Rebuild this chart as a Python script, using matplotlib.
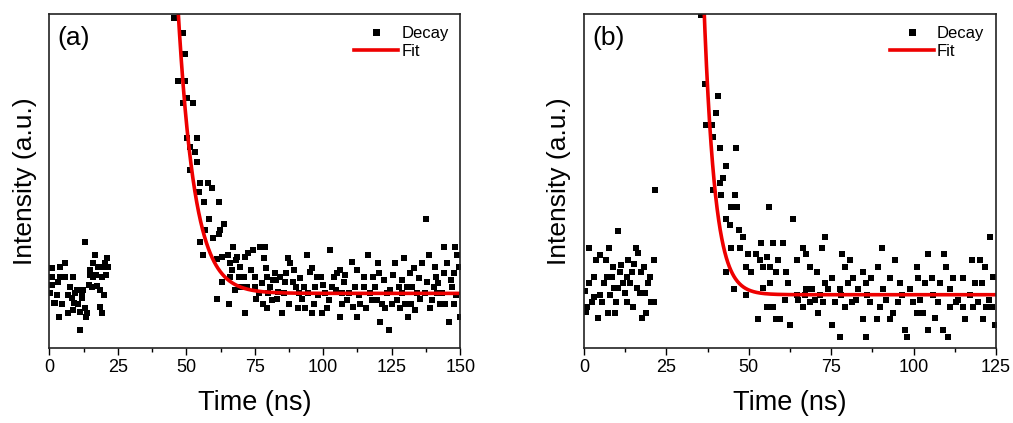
import numpy as np
import matplotlib
matplotlib.use("Agg")
import matplotlib.pyplot as plt

plt.rcParams['font.family'] = ['Liberation Sans', 'DejaVu Sans']

# ---- panel (a) data: time (ns), intensity (a.u., % of axis height)
a_time = [0.9, 0.9, 0.9, 2.7, 2.1, 3.9, 3.9, 4.5, 5.7, 5.7, 3.7, 6.9, 6.9, 7.6, 8.2,
          8.8, 9.0, 9.4, 10.0, 10.6, 11.2, 11.8, 11.2, 12.4, 13.0, 13.0, 13.4, 13.9,
          14.3, 14.9, 14.9, 15.5, 16.1, 16.7, 17.1, 17.3, 17.9, 18.5, 18.5, 19.1, 19.1,
          19.7, 20.3, 20.7, 21.2, 21.6, 0.3, 1.6, 3.0, 8.6, 12.0, 16.0, 20.0,
          45.6, 48.7, 49.7, 46.8, 49.6, 48.7, 50.2, 52.4, 50.4, 53.8, 51.4, 53.2, 53.8,
          51.4, 55.1, 58.1, 54.5, 59.3, 56.6, 62.1, 58.3, 56.9, 63.8, 55.1, 59.9, 61.8,
          62.4, 56.0, 61.1, 63.0, 65.4, 67.2, 66.0, 68.4, 69.7, 71.5, 72.7, 74.5, 77.0,
          78.8, 63.0, 66.0, 67.8, 69.1, 70.9, 72.1, 75.2, 61.1, 65.7, 71.3, 75.5, 78.2,
          79.4, 80.6, 79.4, 81.2, 82.8, 82.5, 84.3, 84.9, 86.1, 87.0, 88.0, 89.2, 90.1,
          91.0, 92.2, 94.0, 93.4, 95.9, 97.1, 95.9, 99.0, 99.6, 100.7, 102.6, 103.2,
          103.8, 105.0, 106.2, 106.8, 107.4, 108.6, 110.5, 111.7, 112.3, 113.5, 114.7,
          116.5, 117.1, 118.3, 119.6, 120.1, 120.8, 122.0, 123.2, 123.9, 125.1, 126.3,
          127.5, 128.1, 129.3, 129.9, 131.1, 132.4, 133.0, 134.2, 136.0, 137.6, 138.5,
          139.1, 140.3, 141.5, 142.7, 144.0, 144.0, 145.2, 145.8, 147.0, 147.6, 148.2,
          148.8, 149.5, 149.8,
          76.5, 78.0, 80.0, 83.0, 85.5, 87.5, 89.0, 90.8, 92.8, 94.5, 96.5, 98.0, 101.5,
          102.0, 104.5, 107.0, 109.5, 110.8, 113.0, 115.5, 117.8, 119.0, 121.5, 122.5,
          124.5, 126.8, 128.6, 130.5, 132.0, 133.5, 135.2, 137.0, 138.0, 139.8, 141.0,
          143.2, 144.5, 146.5, 148.5, 66.8, 68.0, 70.0, 73.5, 75.0, 77.5, 79.0, 81.8,
          83.5, 86.5, 91.5, 95.0, 97.8, 100.0, 106.0, 108.0, 112.5, 115.0, 120.5, 125.5,
          128.8, 131.5, 134.8, 140.8, 142.0, 147.8]
a_intensity = [23.8, 21.3, 18.8, 15.8, 13.3, 21.3, 24.3, 13.1, 25.3, 21.3, 9.3, 15.8, 10.3,
               18.3, 14.8, 21.3, 13.3, 16.3, 17.3, 13.1, 10.8, 16.3, 5.3, 17.3, 11.8, 31.8,
               9.3, 10.3, 18.8, 21.8, 23.3, 18.3, 25.3, 27.8, 21.8, 18.5, 24.3, 17.3, 12.3,
               10.3, 21.3, 24.3, 25.3, 21.8, 26.8, 24.3, 16.3, 13.3, 19.8, 11.3, 14.8, 21.3, 15.8,
               98.8, 94.5, 88.1, 80.0, 80.0, 73.3, 74.8, 73.3, 62.8, 62.8, 60.3, 58.8, 55.8,
               53.3, 49.5, 49.5, 46.8, 47.8, 43.8, 43.8, 38.5, 35.3, 37.1, 31.8, 32.8, 34.1,
               35.3, 27.8, 26.5, 27.3, 27.8, 30.3, 25.3, 27.3, 24.3, 27.3, 28.3, 29.3, 30.3,
               30.3, 19.8, 21.3, 17.3, 21.3, 21.3, 18.3, 18.3, 14.5, 13.1, 10.3, 14.5, 26.8,
               21.3, 18.3, 11.8, 14.3, 20.3, 22.3, 21.3, 10.3, 19.8, 26.8, 25.3, 23.3, 18.3,
               16.3, 14.5, 27.8, 11.8, 23.8, 18.3, 10.3, 21.3, 10.3, 16.3, 29.3, 18.3,
               21.3, 22.3, 9.3, 16.3, 19.8, 14.3, 25.8, 18.3, 9.3, 13.1, 18.3,
               27.8, 16.3, 21.3, 14.3, 25.3, 7.8, 20.3, 16.3, 5.3, 13.1, 25.3,
               18.3, 11.8, 26.8, 13.1, 9.3, 18.3, 23.8, 16.3, 25.3, 38.5, 27.8,
               11.8, 18.3, 16.3, 13.1, 30.3, 22.3, 25.3, 7.8, 18.3, 13.1, 30.3,
               27.8, 24.3, 9.3,
               16.3, 13.1, 16.3, 14.5, 16.3, 13.1, 19.8, 11.8, 18.3, 16.3, 13.1, 15.8, 11.8,
               14.3, 17.3, 13.1, 16.3, 12.3, 15.8, 11.8, 14.3, 18.3, 13.1, 11.8,
               17.3, 14.3, 16.3, 18.3, 13.1, 11.3, 14.5, 16.3, 19.8, 14.3, 21.3,
               16.3, 13.1, 20.3, 15.8, 23.3, 26.3, 18.3, 23.3, 21.3, 19.3, 23.8, 20.3,
               16.8, 22.3, 20.8, 22.8, 21.3, 18.8, 23.3, 21.8, 23.3, 21.3, 22.3, 21.8,
               20.3, 22.3, 20.8, 24.3, 19.3, 22.3]

# ---- panel (b) data
b_time = [0.5, 0.9, 1.5, 1.5, 2.3, 2.9, 3.5, 4.3, 4.8, 5.0, 5.6, 6.0, 6.6, 7.0, 7.3, 7.6,
          8.0, 8.6, 8.8, 9.3, 9.6, 10.2, 10.3, 10.8, 11.3, 11.8, 12.3, 12.9, 13.1, 13.4,
          13.9, 14.7, 14.9, 15.7, 16.1, 16.4, 16.9, 17.4, 17.7, 18.1, 18.4, 18.9, 19.4,
          19.9, 20.4, 21.2, 21.2, 21.5, 0.2, 3.1, 9.0, 15.3,
          35.6, 36.6, 37.1, 38.7, 39.2, 40.0, 40.7, 41.4, 46.1, 43.0, 42.2, 41.2, 39.2,
          41.7, 45.7, 44.5, 46.4, 56.2, 43.0, 63.3, 44.2, 47.1, 48.3, 53.8, 57.2, 60.4,
          73.1, 44.7, 47.3, 49.8, 52.3, 53.3, 55.4, 56.4, 58.9, 64.5, 66.3, 67.5, 72.1,
          78.4, 80.7, 90.3, 94.3, 104.5, 109.3, 123.2, 43.2, 49.3, 50.8, 54.4, 58.4, 61.4,
          68.5, 70.6, 79.2, 84.7, 89.3, 100.9, 109.8, 117.6, 120.1, 121.7, 45.4, 49.3,
          54.4, 56.4, 62.0, 64.5, 67.5, 69.3, 71.6, 73.1, 75.1, 77.6, 80.1, 81.7, 83.2,
          85.7, 87.2, 90.8, 92.8, 95.9, 98.9, 101.4, 103.4, 105.5, 108.0, 111.0, 112.0,
          115.1, 118.6, 120.9, 124.2, 55.4, 57.4, 52.8, 58.2, 59.4, 62.4, 65.0, 66.5,
          68.5, 71.0, 72.6, 75.1, 76.1, 77.6, 79.1, 81.2, 84.7, 85.5, 86.8, 89.0, 89.8,
          92.8, 93.8, 95.3, 97.4, 97.9, 99.9, 100.9, 103.0, 104.5, 106.5, 107.5, 109.0,
          110.5, 111.0, 113.0, 115.6, 115.1, 118.1, 119.6, 121.1, 122.1, 123.7, 124.7,
          61.0, 67.0, 70.0, 74.0, 78.0, 82.5, 86.0, 91.5, 96.5, 102.0, 106.0, 113.5,
          117.0, 122.8]
b_intensity = [10.8, 12.3, 29.8, 19.3, 13.8, 21.3, 26.3, 8.8, 15.8, 27.8, 13.8, 19.3, 26.3,
               21.3, 10.3, 29.8, 15.8, 21.3, 24.3, 10.3, 13.8, 35.1, 17.8, 22.8, 24.8, 19.3,
               16.3, 21.3, 13.8, 26.3, 19.3, 22.8, 12.3, 29.8, 17.8, 28.3, 16.3, 22.8, 8.8,
               24.3, 16.3, 10.3, 19.3, 21.3, 13.8, 26.3, 13.8, 47.3, 17.0, 15.3, 18.0, 25.0,
               99.8, 79.0, 66.8, 66.8, 63.3, 70.3, 75.5, 59.8, 59.8, 54.6, 50.8, 49.3, 47.3,
               45.8, 45.8, 42.3, 42.3, 42.3, 38.5, 38.5, 36.8, 35.3, 33.3, 31.5, 31.5, 31.5,
               33.3, 29.8, 29.8, 28.1, 28.1, 26.3, 27.3, 24.3, 26.3, 26.3, 29.8, 28.1, 29.8,
               28.1, 26.3, 29.8, 26.3, 28.1, 28.1, 33.3, 22.8, 24.3, 22.8, 24.3, 22.8, 22.8,
               24.3, 22.8, 24.3, 22.8, 24.3, 24.3, 24.3, 26.3, 26.3, 24.3, 17.5, 15.8,
               17.8, 19.3, 19.3, 15.8, 17.5, 17.5, 15.8, 19.3, 20.8, 17.5, 19.3, 20.8, 17.5,
               19.3, 20.8, 17.5, 20.8, 19.3, 17.5, 20.8, 19.3, 20.8, 19.3, 17.5, 20.8,
               20.8, 19.3, 19.3, 21.3, 12.3, 12.3, 8.5, 8.5, 8.5, 6.8, 14.3, 12.3,
               13.8, 10.3, 13.8, 6.8, 13.8, 3.3, 12.3, 13.8, 8.5, 3.3, 13.8, 8.5, 12.3,
               8.5, 10.3, 13.8, 5.3, 3.3, 13.8, 10.3, 10.3, 5.3, 8.8, 13.8, 5.3,
               3.3, 12.3, 13.8, 8.5, 12.3, 12.3, 13.8, 8.5, 12.3, 12.3, 6.8,
               14.3, 15.8, 14.3, 17.5, 15.8, 14.3, 15.8, 14.3, 15.8, 14.3, 15.8, 14.3,
               15.8, 14.3]

# mono-exponential fit parameters: y0 + A*exp(-(t - t0)/tau)
a_fit = dict(y0=16.3, A=58.0, t0=49.3, tau=6.0)
b_fit = dict(y0=15.9, A=58.4, t0=37.7, tau=3.3)

panels = [
    ("(a)", a_time, a_intensity, a_fit, 150, [0.0487, 0.178, 0.4056, 0.788]),
    ("(b)", b_time, b_intensity, b_fit, 125, [0.5765, 0.178, 0.4067, 0.788]),
]

fig = plt.figure(figsize=(10.13, 4.23), dpi=100)

for tag, t, y, p, xmax, rect in panels:
    ax = fig.add_axes(rect)
    ax.plot(t, y, 's', color='black', markersize=4.2, markeredgewidth=0,
            label='Decay')
    tt = np.linspace(p['t0'] - 5, xmax, 600)
    ax.plot(tt, p['y0'] + p['A'] * np.exp(-(tt - p['t0']) / p['tau']),
            color='#ee0000', linewidth=2.6, label='Fit')
    ax.set_xlim(0, xmax)
    ax.set_ylim(0, 100)
    ax.set_xticks(np.arange(0, xmax + 1, 25))
    ax.set_xticks(np.arange(12.5, xmax, 25), minor=True)
    ax.set_yticks([])
    ax.tick_params(axis='x', which='major', direction='out', length=5, width=1,
                   labelsize=13, pad=3)
    ax.tick_params(axis='x', which='minor', direction='out', length=3, width=1)
    for s in ax.spines.values():
        s.set_linewidth(1.2)
        s.set_color('#222222')
    ax.set_xlabel('Time (ns)', fontsize=19.5, labelpad=10)
    ax.set_ylabel('Intensity (a.u.)', fontsize=19, labelpad=9)
    ax.text(0.02, 0.965, tag, transform=ax.transAxes, fontsize=19,
            va='top', ha='left')
    ax.legend(loc='upper right', frameon=False, fontsize=12, handlelength=2.6,
              handletextpad=0.2, labelspacing=0.15, borderaxespad=0.3,
              markerscale=1.2)

fig.savefig('out.png', dpi=100)
